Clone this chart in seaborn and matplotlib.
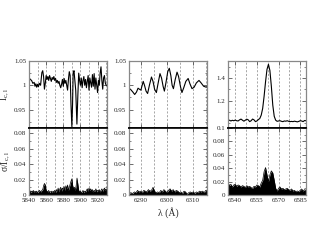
import numpy as np
import pandas as pd
import seaborn as sns
from matplotlib import pyplot as plt
from matplotlib.ticker import MultipleLocator, FormatStrFormatter

# ---- data (wavelength in A) ----
wl_na = [5840, 5841.5, 5843, 5844.5, 5846, 5847, 5848, 5849, 5850, 5851, 5852, 5853.5, 5855, 5856,
         5857, 5858, 5859, 5860, 5861, 5862, 5863, 5864, 5865, 5866, 5867, 5868, 5869, 5870, 5871,
         5872, 5873, 5874, 5875, 5876, 5877, 5878, 5879, 5880, 5881, 5882, 5883, 5884, 5885, 5886,
         5887, 5888, 5889, 5890, 5890.8, 5891.5, 5892.5, 5893.5, 5894.5, 5895.9, 5897, 5898, 5899,
         5900, 5901, 5902, 5903, 5904, 5905, 5906, 5907, 5908, 5909, 5910, 5911, 5912, 5913, 5914,
         5915, 5916, 5917, 5918, 5919, 5920, 5921, 5922, 5923, 5924, 5925, 5926, 5927, 5928, 5929,
         5930, 5931]
flux_na = [1.016, 1.012, 1.010, 1.004, 1.006, 0.998, 1.003, 0.996, 1.002, 0.997, 1.004, 1.000, 1.026,
           1.030, 1.018, 0.992, 1.004, 1.020, 1.012, 1.018, 1.010, 1.020, 1.014, 1.008, 1.016, 1.012,
           1.018, 1.010, 1.014, 1.006, 1.010, 1.004, 1.008, 1.000, 0.995, 1.002, 1.012, 0.998, 1.014,
           1.004, 1.010, 1.000, 0.990, 1.012, 1.028, 1.020, 0.960, 0.915, 0.960, 1.025, 1.030, 1.010,
           0.990, 0.920, 0.980, 1.025, 1.010, 1.000, 1.015, 0.995, 1.010, 1.018, 1.000, 1.012, 0.995,
           1.008, 1.020, 0.990, 1.015, 1.005, 0.996, 1.022, 0.998, 1.024, 0.992, 1.015, 1.000, 0.985,
           1.010, 1.000, 1.025, 1.038, 1.010, 0.992, 1.015, 1.020, 1.005, 1.000, 1.000]
wl_na_s = list(range(5840, 5932))
sig_na = [0.004, 0.006, 0.003, 0.005, 0.004, 0.006, 0.003, 0.005, 0.004, 0.005, 0.003, 0.004, 0.006,
          0.005, 0.004, 0.006, 0.007, 0.012, 0.015, 0.013, 0.006, 0.005, 0.004, 0.006, 0.003, 0.004,
          0.005, 0.003, 0.005, 0.004, 0.006, 0.003, 0.007, 0.005, 0.009, 0.004, 0.008, 0.010, 0.005,
          0.009, 0.007, 0.011, 0.006, 0.012, 0.008, 0.013, 0.006, 0.010, 0.014, 0.018, 0.021, 0.012,
          0.008, 0.010, 0.006, 0.012, 0.022, 0.014, 0.006, 0.004, 0.005, 0.003, 0.004, 0.006, 0.003,
          0.005, 0.004, 0.006, 0.008, 0.005, 0.009, 0.006, 0.008, 0.005, 0.007, 0.004, 0.006, 0.005,
          0.008, 0.004, 0.006, 0.005, 0.007, 0.004, 0.006, 0.008, 0.005, 0.007, 0.009, 0.006, 0.008,
          0.007]

wl_o = [6285.3, 6286.0, 6286.8, 6287.5, 6288.2, 6288.8, 6289.3, 6289.9, 6290.4, 6290.8, 6291.3, 6291.9,
        6292.5, 6293.2, 6294.0, 6294.6, 6295.2, 6295.9, 6296.6, 6297.3, 6297.9, 6298.5, 6299.0, 6299.6,
        6300.3, 6300.9, 6301.5, 6302.0, 6302.5, 6303.2, 6303.9, 6304.5, 6305.2, 6305.8, 6306.5, 6307.3,
        6308.2, 6308.9, 6309.7, 6310.5, 6311.4, 6312.4, 6313.2, 6314.2, 6315.2, 6315.5]
flux_o = [0.994, 0.991, 0.986, 0.981, 0.986, 0.994, 0.992, 0.990, 1.000, 1.008, 1.000, 0.988, 0.983,
          1.000, 1.017, 1.008, 0.992, 0.985, 1.005, 1.024, 1.015, 0.998, 0.988, 1.005, 1.028, 1.035,
          1.020, 1.000, 0.993, 1.012, 1.027, 1.018, 0.998, 0.985, 0.995, 1.008, 1.014, 1.003, 0.993,
          0.996, 1.005, 1.010, 1.005, 0.998, 0.996, 0.997]
wl_o_s = [6285.3, 6286, 6286.7, 6287.4, 6288, 6288.6, 6289.2, 6289.8, 6290.4, 6291, 6291.6, 6292.2,
          6292.8, 6293.4, 6294, 6294.6, 6295.2, 6295.8, 6296.4, 6297, 6297.6, 6298.2, 6298.8, 6299.4,
          6300, 6300.6, 6301.2, 6301.8, 6302.4, 6303, 6303.6, 6304.2, 6304.8, 6305.4, 6306, 6306.6,
          6307.2, 6307.8, 6308.4, 6309, 6309.6, 6310.2, 6310.8, 6311.4, 6312, 6312.6, 6313.2, 6313.8,
          6314.4, 6315, 6315.5]
sig_o = [0.002, 0.003, 0.002, 0.004, 0.003, 0.006, 0.004, 0.005, 0.003, 0.006, 0.005, 0.004, 0.007,
         0.005, 0.006, 0.010, 0.005, 0.003, 0.004, 0.003, 0.006, 0.004, 0.007, 0.005, 0.003, 0.006,
         0.008, 0.005, 0.007, 0.004, 0.006, 0.005, 0.003, 0.004, 0.002, 0.005, 0.004, 0.001, 0.003,
         0.004, 0.003, 0.004, 0.002, 0.004, 0.003, 0.005, 0.004, 0.005, 0.003, 0.006, 0.005]

wl_ha = list(range(6535, 6590))
flux_ha = [1.022, 1.025, 1.018, 1.024, 1.020, 1.026, 1.020, 1.018, 1.028, 1.035, 1.025, 1.016, 1.025,
           1.034, 1.028, 1.012, 1.020, 1.035, 1.028, 1.012, 1.018, 1.030, 1.040, 1.070, 1.130, 1.240,
           1.370, 1.480, 1.525, 1.470, 1.330, 1.160, 1.060, 1.025, 1.015, 1.018, 1.020, 1.015, 1.012,
           1.018, 1.016, 1.020, 1.015, 1.012, 1.014, 1.012, 1.016, 1.013, 1.010, 1.014, 1.020, 1.018,
           1.012, 1.022, 1.020]
sig_ha = [0.019, 0.014, 0.016, 0.012, 0.015, 0.016, 0.013, 0.015, 0.014, 0.012, 0.014, 0.013, 0.011,
          0.014, 0.012, 0.013, 0.011, 0.010, 0.013, 0.012, 0.015, 0.014, 0.012, 0.018, 0.022, 0.035,
          0.041, 0.030, 0.020, 0.030, 0.036, 0.033, 0.022, 0.010, 0.006, 0.010, 0.012, 0.009, 0.010,
          0.008, 0.009, 0.010, 0.008, 0.007, 0.009, 0.006, 0.007, 0.005, 0.006, 0.005, 0.007, 0.009,
          0.006, 0.008, 0.007]

sns.set_style("ticks")
plt.rcParams['font.family'] = ['Liberation Serif', 'DejaVu Serif']
plt.rcParams['mathtext.fontset'] = 'custom'
plt.rcParams['mathtext.rm'] = 'Liberation Serif'
plt.rcParams['mathtext.it'] = 'Liberation Serif'

fig = plt.figure(figsize=(3.17, 2.45), dpi=100)

panels = [
    # x data, flux, x sigma, sigma, xlim, top ylim, top major, bottom ylim, grid step, xticks
    (wl_na, flux_na, wl_na_s, sig_na, (5840, 5931), (0.912, 1.05), [0.95, 1.0, 1.05], (0, 0.087),
     10, [5840, 5860, 5880, 5900, 5920]),
    (wl_o, flux_o, wl_o_s, sig_o, (6285.3, 6315.5), (0.912, 1.05), [0.95, 1.0, 1.05], (0, 0.087),
     5, [6290, 6300, 6310]),
    (wl_ha, flux_ha, wl_ha, sig_ha, (6535, 6589), (0.955, 1.555), [1.2, 1.4], (0, 0.1),
     7.5, [6540, 6555, 6570, 6585]),
]
lefts = [29 / 317, 129 / 317, 228 / 317]
w = 78 / 317

for i, (x, f, xs, s, xl, yl, yt, yl2, gstep, xt) in enumerate(panels):
    ax1 = fig.add_axes([lefts[i], 117 / 245, w, 67 / 245])
    ax2 = fig.add_axes([lefts[i], 50 / 245, w, 67 / 245])

    sns.lineplot(data=pd.DataFrame({'wl': x, 'f': f}), x='wl', y='f', ax=ax1,
                 color='black', linewidth=0.8, sort=False)
    ax2.fill_between(xs, 0, s, color='black', linewidth=0)
    sns.lineplot(data=pd.DataFrame({'wl': xs, 's': s}), x='wl', y='s', ax=ax2,
                 color='black', linewidth=0.5)

    ax1.set_xlim(xl)
    ax2.set_xlim(xl)
    ax1.set_ylim(yl)
    ax2.set_ylim(yl2)
    ax1.set_yticks(yt)
    ax1.yaxis.set_major_formatter(FormatStrFormatter('%g'))
    ax2.set_yticks([0, 0.02, 0.04, 0.06, 0.08] + ([0.1] if i == 2 else []))
    ax2.yaxis.set_major_formatter(FormatStrFormatter('%g'))
    ax2.set_xticks(xt)
    ax1.set_xticks(xt)
    ax1.tick_params(labelbottom=False)
    if i == 2:
        ax1.yaxis.set_minor_locator(MultipleLocator(0.1))
    else:
        ax1.yaxis.set_minor_locator(MultipleLocator(0.025))
    ax2.yaxis.set_minor_locator(MultipleLocator(0.01))

    # dashed vertical guides across both panels
    g = np.arange(np.ceil(xl[0] / gstep) * gstep, xl[1], gstep)
    for a in (ax1, ax2):
        for gx in g:
            a.axvline(gx, color='#999999', linestyle=(0, (2.5, 2)), linewidth=0.6, zorder=0)
        a.set_xlabel('')
        a.set_ylabel('')
        a.tick_params(axis='both', which='both', direction='in', top=True, right=True,
                      labelsize=5, pad=2, color='#555555')
        a.tick_params(which='major', length=3, width=0.6)
        a.tick_params(which='minor', length=1.5, width=0.5)
        for sp in a.spines.values():
            sp.set_color('#888888')
            sp.set_linewidth(0.9)
    ax1.spines['bottom'].set_color('black')
    ax1.spines['bottom'].set_linewidth(1.2)
    ax2.spines['top'].set_color('black')
    ax2.spines['top'].set_linewidth(1.2)

    if i == 0:
        ax1.set_ylabel(r'$\mathrm{I}_{c,l}$', fontsize=7, labelpad=2)
        ax2.set_ylabel('σ/' + r'$\mathrm{I}_{c,l}$', fontsize=7, labelpad=1)
    if i == 1:
        ax2.set_xlabel('λ (Å)', fontsize=7, labelpad=3)

fig.savefig('out.png', dpi=100)
